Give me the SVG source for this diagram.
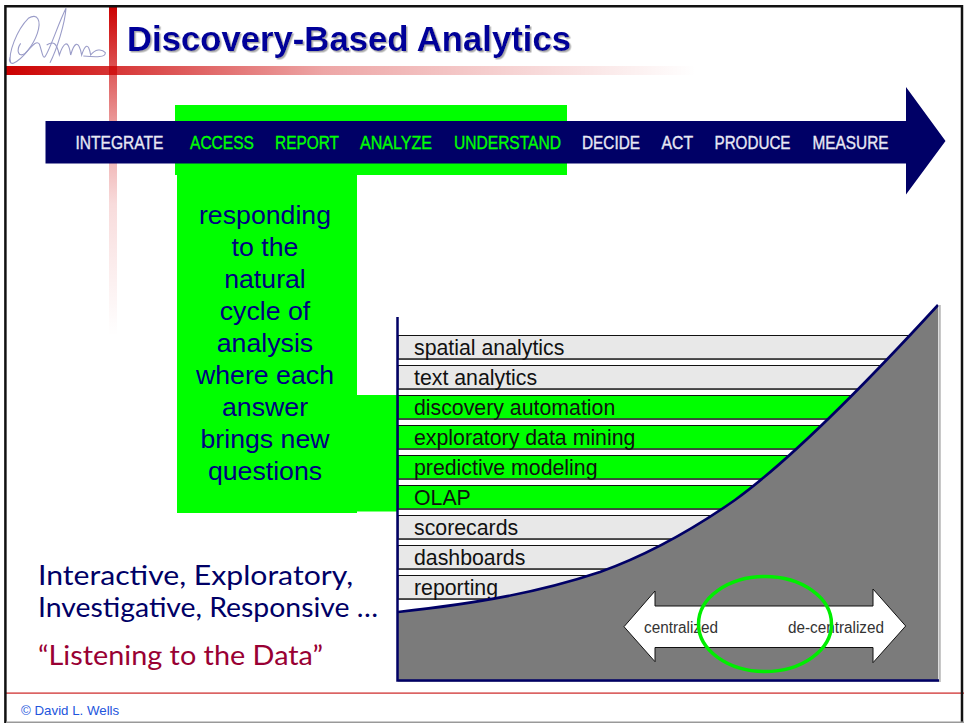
<svg xmlns="http://www.w3.org/2000/svg" width="964" height="723" viewBox="0 0 964 723">
<style>
.sans{font-family:"Liberation Sans",Arial,sans-serif}
.step{font-size:18px;font-weight:400;stroke-width:.35px}
.w{fill:#e8e8f4;stroke:#e8e8f4}
.g{fill:#00ff00;stroke:#00ff00}
.strip{stroke:#111;stroke-width:1}
.base{stroke:#444;stroke-width:1.700}
.lab{font-size:21.300px;fill:#111}
.big{font-size:26.700px;fill:#000080;text-anchor:middle}
.cur{font-family:"Lato","Open Sans",sans-serif;font-size:27px;fill:#000066}
.small{font-size:16px;fill:#333}
</style>
<defs>
<linearGradient id="h" x1="0" x2="1" y1="0" y2="0"><stop offset="0" stop-color="#cc0000"/><stop offset=".15" stop-color="#cc0000" stop-opacity=".8"/><stop offset=".46" stop-color="#cc0000" stop-opacity=".35"/><stop offset="1" stop-color="#cc0000" stop-opacity="0"/></linearGradient>
<linearGradient id="v" x1="0" x2="0" y1="0" y2="1"><stop offset="0" stop-color="#cc0000"/><stop offset=".2" stop-color="#cc0000" stop-opacity=".65"/><stop offset=".35" stop-color="#cc0000" stop-opacity=".4"/><stop offset=".6" stop-color="#cc0000" stop-opacity=".14"/><stop offset="1" stop-color="#cc0000" stop-opacity="0"/></linearGradient>
<filter id="sh" x="-5%" y="-20%" width="110%" height="140%"><feDropShadow dx="1.500" dy="1.500" stdDeviation=".5" flood-color="#aaa"/></filter>
</defs>
<rect width="964" height="723" fill="#fff"/>
<g id="decor">
<rect x="109" y="6" width="8" height="330" fill="url(#v)"/>
<rect x="6" y="66" width="690" height="9" fill="url(#h)"/>
<rect x="6" y="692.500" width="958" height="1.200" fill="#cc2222"/>
<path d="M5.400 723V6.200H962V723" fill="none" stroke="#111" stroke-width="2.500"/>
<rect x="6" y="721.500" width="958" height="1.500" fill="#999"/>
</g>
<g id="signature" fill="none" stroke="#9a9cc8" stroke-width="3.300" transform="scale(.3333)">
<path d="M32 188C24 160 50 90 85 55C112 38 125 60 112 100C100 135 70 175 40 190C30 192 26 182 30 172"/>
<path d="M62 130C48 150 55 175 75 160C92 145 108 118 118 132C125 150 128 178 135 170C150 150 175 70 198 25C195 70 170 150 150 188"/>
<path d="M140 135C160 122 170 128 178 165C190 130 205 112 212 165C222 130 235 115 245 165C255 135 265 125 272 165C285 148 305 145 316 158C318 172 290 172 250 168"/>
</g>
<text id="title" class="sans" x="127" y="51" font-size="34.500" font-weight="700" fill="#000099" filter="url(#sh)" textLength="444" lengthAdjust="spacingAndGlyphs">Discovery-Based Analytics</text>
<g id="highlight" fill="#00ff00">
<rect x="175" y="105" width="392" height="70"/>
<rect x="177" y="175" width="180" height="338"/>
<rect x="357" y="395" width="41" height="116.500"/>
</g>
<g id="process-arrow">
<path d="M45.500 121H906V87L945.500 141L906 194.500V163.500H45.500Z" fill="#000066"/>
<g class="sans">
<text class="step w" x="75.500" y="149" textLength="88" lengthAdjust="spacingAndGlyphs">INTEGRATE</text>
<text class="step g" x="190" y="149" textLength="64" lengthAdjust="spacingAndGlyphs">ACCESS</text>
<text class="step g" x="275" y="149" textLength="64" lengthAdjust="spacingAndGlyphs">REPORT</text>
<text class="step g" x="360" y="149" textLength="72" lengthAdjust="spacingAndGlyphs">ANALYZE</text>
<text class="step g" x="454" y="149" textLength="107" lengthAdjust="spacingAndGlyphs">UNDERSTAND</text>
<text class="step w" x="582" y="149" textLength="58" lengthAdjust="spacingAndGlyphs">DECIDE</text>
<text class="step w" x="661.500" y="149" textLength="31.500" lengthAdjust="spacingAndGlyphs">ACT</text>
<text class="step w" x="714.500" y="149" textLength="76" lengthAdjust="spacingAndGlyphs">PRODUCE</text>
<text class="step w" x="812.500" y="149" textLength="76" lengthAdjust="spacingAndGlyphs">MEASURE</text>
</g>
</g>
<g id="description" class="sans">
<text class="big" x="265" y="224">responding</text>
<text class="big" x="265" y="256">to the</text>
<text class="big" x="265" y="288">natural</text>
<text class="big" x="265" y="320">cycle of</text>
<text class="big" x="265" y="352">analysis</text>
<text class="big" x="265" y="384">where each</text>
<text class="big" x="265" y="416">answer</text>
<text class="big" x="265" y="448">brings new</text>
<text class="big" x="265" y="480">questions</text>
</g>
<g id="strips" class="sans">
<g id="spatial"><rect class="strip" x="398" y="335.500" width="530" height="23.500" fill="#e8e8e8"/><path class="base" d="M398 359.200H928"/><text class="lab" x="414" y="355">spatial analytics</text></g>
<g id="text-analytics"><rect class="strip" x="398" y="365.500" width="530" height="23.500" fill="#e8e8e8"/><path class="base" d="M398 389.200H928"/><text class="lab" x="414" y="385">text analytics</text></g>
<g id="discovery"><rect class="strip" x="398" y="395.500" width="530" height="23.500" fill="#00ff00"/><path class="base" d="M398 419.200H928"/><text class="lab" x="414" y="415">discovery automation</text></g>
<g id="exploratory"><rect class="strip" x="398" y="425.500" width="530" height="23.500" fill="#00ff00"/><path class="base" d="M398 449.200H928"/><text class="lab" x="414" y="445">exploratory data mining</text></g>
<g id="predictive"><rect class="strip" x="398" y="455.500" width="530" height="23.500" fill="#00ff00"/><path class="base" d="M398 479.200H928"/><text class="lab" x="414" y="475">predictive modeling</text></g>
<g id="olap"><rect class="strip" x="398" y="485.500" width="530" height="23.500" fill="#00ff00"/><path class="base" d="M398 509.200H928"/><text class="lab" x="414" y="505">OLAP</text></g>
<g id="scorecards"><rect class="strip" x="398" y="515.500" width="530" height="23.500" fill="#e8e8e8"/><path class="base" d="M398 539.200H928"/><text class="lab" x="414" y="535">scorecards</text></g>
<g id="dashboards"><rect class="strip" x="398" y="545.500" width="530" height="23.500" fill="#e8e8e8"/><path class="base" d="M398 569.200H928"/><text class="lab" x="414" y="565">dashboards</text></g>
<g id="reporting"><rect class="strip" x="398" y="575.500" width="530" height="23.500" fill="#e8e8e8"/><path class="base" d="M398 599.200H928"/><text class="lab" x="414" y="595">reporting</text></g>
</g>
<g id="curve">
<path d="M398 612C480 603 540 592 600 572C650 554 695 528 735 500C790 460 860 390 938 305V681H398Z" fill="#7b7b7b"/>
<path d="M398 612C480 603 540 592 600 572C650 554 695 528 735 500C790 460 860 390 938 305" fill="none" stroke="#000066" stroke-width="2.600"/>
<path d="M938.500 305H940.800V682H398V680H938.500Z" fill="#bbb"/>
<path d="M397.500 317V680.500H939" fill="none" stroke="#000066" stroke-width="2.500"/>
</g>
<g id="range-arrow" class="sans">
<path d="M624 626.700L655 591V606H873V589L905.700 626L873 662.700V647.500H655V661.700Z" fill="#fff" stroke="#111" stroke-width="1"/>
<text class="small" x="644" y="632.500" textLength="74" lengthAdjust="spacingAndGlyphs">centralized</text>
<text class="small" x="788" y="632.500" textLength="96" lengthAdjust="spacingAndGlyphs">de-centralized</text>
<ellipse cx="765" cy="624" rx="66.500" ry="47.500" fill="none" stroke="#00ee00" stroke-width="3.500"/>
</g>
<g id="notes" class="cur">
<text x="38" y="585" textLength="315" lengthAdjust="spacingAndGlyphs">Interactive, Exploratory,</text>
<text x="38" y="617" textLength="340" lengthAdjust="spacingAndGlyphs">Investigative, Responsive …</text>
<text x="38" y="665" textLength="285" lengthAdjust="spacingAndGlyphs" style="fill:#990033">“Listening to the Data”</text>
</g>
<text id="copyright" class="sans" x="21" y="715" font-size="13.300" fill="#2255dd">© David L. Wells</text>
</svg>
